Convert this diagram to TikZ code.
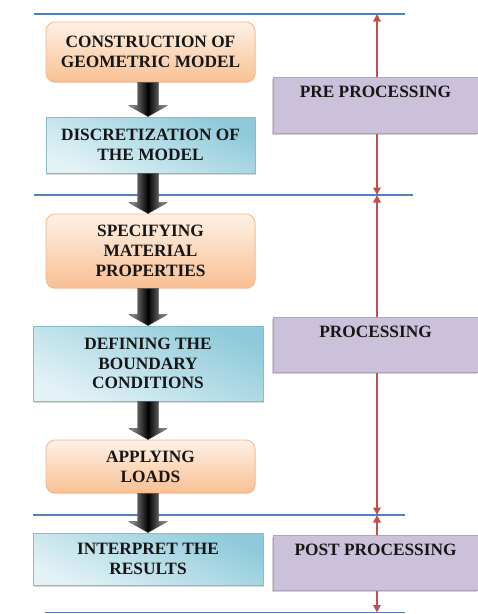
\documentclass[tikz,border=0pt]{standalone}
\usepackage{fontspec}
\setmainfont{Liberation Serif}
\usetikzlibrary{calc,arrows.meta,shadows}
\definecolor{bline}{HTML}{4F81BD}
\definecolor{rline}{HTML}{C0504D}
\definecolor{purp}{HTML}{CCC1DA}
\definecolor{otop}{HTML}{FEF1E6}
\definecolor{obot}{HTML}{F9C093}
\definecolor{oedge}{HTML}{F3B88C}
\definecolor{btop}{HTML}{8ECADA}
\definecolor{bbot}{HTML}{E2F2F6}
\definecolor{bedge}{HTML}{86BCCB}
\definecolor{txt}{HTML}{161616}
\tikzset{
  lbl/.style={font=\bfseries\fontsize{17.3}{19.8}\selectfont, text=txt, align=center, inner sep=0pt},
  obox/.style={lbl, rounded corners=9pt, draw=oedge, line width=0.8pt,
    top color=otop, bottom color=obot, minimum width=209pt,
    drop shadow={shadow xshift=0.8pt, shadow yshift=-1.2pt, opacity=0.2}},
  bbox/.style={lbl, draw=bedge, line width=0.8pt,
    top color=btop, bottom color=bbot, shading angle=-25,
    drop shadow={shadow xshift=0.8pt, shadow yshift=-1.5pt, opacity=0.3}},
  pbox/.style={fill=purp, draw=purp!85!black, line width=0.5pt, minimum width=205pt, inner sep=0pt,
    drop shadow={shadow xshift=-0.8pt, shadow yshift=-1.8pt, opacity=0.35}},
  ptext/.style={lbl, anchor=north},
  sepline/.style={bline, line width=1.8pt},
  span/.style={rline, line width=1.7pt, {Triangle[width=7.5pt,length=7.5pt]}-{Triangle[width=7.5pt,length=7.5pt]}},
  barrow/.style={shade, left color=gray!70, right color=gray!70, middle color=black, draw=gray!60!black, line width=0.4pt}
}
\newcommand{\blockarr}[2]{%
  \path[barrow] let \p1=(#1.south), \p2=(#2.north) in
    (148pt-10.5pt,\y1) -- (148pt+10.5pt,\y1) -- (148pt+10.5pt,\y2+11pt) -- (148pt+19pt,\y2+11pt)
    -- (148pt,\y2) -- (148pt-19pt,\y2+11pt) -- (148pt-10.5pt,\y2+11pt) -- cycle;}
\begin{document}
\begin{tikzpicture}[x=1pt,y=-1pt]
\useasboundingbox[fill=white] (0,0) rectangle (478,614);
% coordinates of separator lines and spans
\coordinate (l1a) at (34,14);  \coordinate (l1b) at (405,14);
\coordinate (l2a) at (34,195); \coordinate (l2b) at (413,195);
\coordinate (l3a) at (33,515); \coordinate (l3b) at (405,515);
\coordinate (l4a) at (45,612.5); \coordinate (l4b) at (405,612.5);
\coordinate (r1) at (377,14);
\coordinate (r2) at (377,195);
\coordinate (r3) at (377,515);
\coordinate (r4) at (377,612.5);
% red spans
\draw[span] (r1) -- (r2);
\draw[span] (r2) -- (r3);
\draw[span] (r3) -- (r4);
% blue lines
\draw[sepline] (l1a) -- (l1b);
\draw[sepline] (l2a) -- (l2b);
\draw[sepline] (l3a) -- (l3b);
\draw[sepline] (l4a) -- (l4b);
% purple phase boxes
\node[pbox, minimum height=56pt] (p1) at (375.5,105) {};
\node[pbox, minimum height=55pt] (p2) at (375.5,344.5) {};
\node[pbox, minimum height=55pt] (p3) at (375.5,562.5) {};
\node[ptext] (t1) at ([yshift=-9pt]p1.north) {PRE PROCESSING};
\node[ptext] (t2) at ([yshift=-9pt]p2.north) {PROCESSING};
\node[ptext] (t3) at ([yshift=-9pt]p3.north) {POST PROCESSING};
% step boxes
\node[obox, minimum height=60pt] (b1) at (150.5,52) {CONSTRUCTION OF\\GEOMETRIC MODEL};
\node[bbox, minimum width=209pt, minimum height=56pt] (b2) at (150.5,145) {DISCRETIZATION OF\\THE MODEL};
\node[obox, minimum height=74pt] (b3) at (150.5,251) {SPECIFYING\\MATERIAL\\PROPERTIES};
\node[bbox, minimum width=230pt, minimum height=75pt] (b4) at (148,363.5) {DEFINING THE\\BOUNDARY\\CONDITIONS};
\node[obox, minimum height=53pt] (b5) at (150.5,466.5) {APPLYING\\LOADS};
\node[bbox, minimum width=230pt, minimum height=52pt] (b6) at (148,559) {INTERPRET THE\\RESULTS};
% block arrows
\blockarr{b1}{b2}
\blockarr{b2}{b3}
\blockarr{b3}{b4}
\blockarr{b4}{b5}
\blockarr{b5}{b6}
\end{tikzpicture}
\end{document}
